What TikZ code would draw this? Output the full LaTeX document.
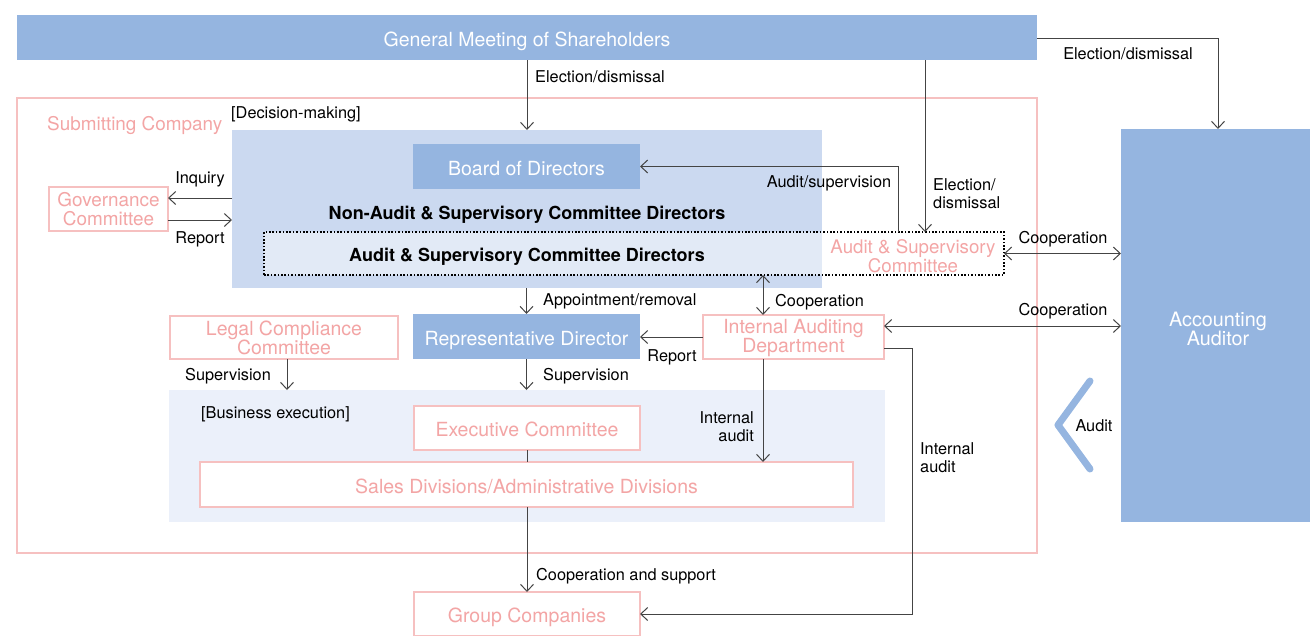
\documentclass[tikz,border=0pt]{standalone}
\usepackage{fontspec}
\setmainfont{TeX Gyre Heros}
\usetikzlibrary{arrows.meta,calc}
\definecolor{mblue}{HTML}{95B5E0}
\definecolor{dblue}{HTML}{CBD9F0}
\definecolor{lblue}{HTML}{EBF0FA}
\definecolor{dotfill}{HTML}{E2EAF6}
\definecolor{pinkline}{HTML}{F6C0C0}
\definecolor{pinktext}{HTML}{F3A5A5}
\definecolor{arrgray}{HTML}{444444}
\begin{document}
\begin{tikzpicture}[x=1pt,y=-1pt,
  rect/.style 2 args={minimum width=#1, minimum height=#2, inner sep=0pt, outer sep=0pt, align=center},
  oneline/.style={text height=17.5pt, text depth=0pt},
  bluebox/.style={fill=mblue, text=white, font=\fontsize{19.5}{19}\selectfont},
  pinkbox/.style={draw=pinkline, line width=1.2pt, fill=white, text=pinktext, font=\fontsize{19.5}{19}\selectfont},
  lbl/.style={inner sep=0pt, text depth=0pt, font=\fontsize{16.3}{18}\selectfont, text=black},
  boldtxt/.style={inner sep=0pt, font=\fontsize{18}{19}\selectfont\bfseries},
  arr/.style={draw=arrgray, line width=1pt, -{Straight Barb[length=7pt,width=13pt,line width=1pt]}},
  darr/.style={draw=arrgray, line width=1pt, {Straight Barb[length=7pt,width=13pt,line width=1pt]}-{Straight Barb[length=7pt,width=13pt,line width=1pt]}},
  plain/.style={draw=arrgray, line width=1pt}
]
\useasboundingbox (0,0) rectangle (1310,635);

% containers
\node[rect={1020}{455}, draw=pinkline, line width=1.2pt] (company) at (527,325.5) {};
\node[rect={590}{158}, fill=dblue] (dec) at (527,209) {};
\node[rect={716}{132}, fill=lblue] (bus) at (527,456) {};
\fill[dotfill] (264,232) rectangle (822,275);
\node[rect={740}{43}, draw=black, line width=1.6pt, dash pattern=on 1.6pt off 1.8pt] (asc) at (634,253.5) {};

% top
\node[rect={1020}{45}, bluebox, oneline] (gm) at (527,37.5) {General Meeting of Shareholders};
\node[rect={194}{393}, fill=mblue] (aa) at (1218,325.5) {};
\node[inner sep=0pt, text=white, align=center, font=\fontsize{19.8}{18}\selectfont] (aatext) at (1218,329) {Accounting\\Auditor};

% boxes
\node[rect={227}{45}, bluebox, oneline] (bod) at (526.5,166.5) {Board of Directors};
\node[boldtxt] (nonaud) at (527,215) {Non-Audit \& Supervisory Committee Directors};
\node[boldtxt] (auddir) at (527,257) {Audit \& Supervisory Committee Directors};
\node[inner sep=0pt, text=pinktext, align=center, font=\fontsize{18.7}{18}\selectfont] (asctext) at (913,256) {Audit \& Supervisory\\Committee};
\node[rect={119}{44}, pinkbox, font=\fontsize{18.9}{19}\selectfont] (gov) at (108.5,209) {Governance\\Committee};
\node[rect={227}{45}, bluebox, oneline] (rd) at (526.5,336.5) {Representative Director};
\node[rect={181}{44}, pinkbox] (iad) at (793.5,337) {\rule{0pt}{17pt}Internal Auditing\\Department};
\node[rect={228}{43}, pinkbox] (lcc) at (284,337.5) {\rule{0pt}{16pt}Legal Compliance\\Committee};
\node[rect={226}{44}, pinkbox, oneline] (ec) at (527,428) {Executive Committee};
\node[rect={653}{45}, pinkbox, oneline] (sales) at (526.5,484.5) {Sales Divisions/Administrative Divisions};
\node[rect={226}{44}, pinkbox, oneline] (gc) at (527,614) {Group Companies};

% plain texts
\node[lbl, anchor=west, text=pinktext, font=\fontsize{18.9}{19}\selectfont] (subco) at (47,123) {Submitting Company};
\node[lbl, anchor=west] (decmk) at (231,113) {[Decision-making]};
\node[lbl, anchor=west] (busex) at (201,413) {[Business execution]};

% coordinates
\coordinate (elx) at (925,0);
\coordinate (audx) at (898,0);
\coordinate (coopx) at (763,0);
\coordinate (inqy) at (0,198);
\coordinate (repy) at (0,220);
\coordinate (coop2y) at (0,326);
\coordinate (iay) at (0,348);
\coordinate (iax) at (912,0);
\coordinate (lccx) at (287,0);

% connectors
\draw[arr] (gm.south) -- (gm.south |- dec.north);
\node[lbl, anchor=west] (l1) at (535,77) {Election/dismissal};

\draw[arr] (gm.east |- 0,38) -| (aa.north);
\node[lbl] (l2) at (1128,54) {Election/dismissal};

\draw[arr] (elx |- gm.south) -- (elx |- asc.north);
\node[lbl, anchor=west, align=left] (l3) at (933,193.5) {Election/\\dismissal};

\draw[arr] (audx |- asc.north) |- (bod.east);
\node[lbl] (l4) at (829,182) {Audit/supervision};

\draw[arr] (dec.west |- inqy) -- (gov.east |- inqy);
\node[lbl] (l5) at (200,178) {Inquiry};
\draw[arr] (gov.east |- repy) -- (dec.west |- repy);
\node[lbl] (l6) at (200,238) {Report};

\draw[darr] (asc.east) -- (aa.west |- asc.east);
\node[lbl] (l7) at (1063,237) {Cooperation};

\draw[arr] (rd.north |- dec.south) -- (rd.north);
\node[lbl, anchor=west] (l8) at (543,300) {Appointment/removal};

\draw[darr] (coopx |- asc.south) -- (coopx |- iad.north);
\node[lbl, anchor=west] (l9) at (775,300) {Cooperation};

\draw[arr] (iad.west) -- (rd.east |- iad.west);
\node[lbl] (l10) at (672,356) {Report};

\draw[darr] (iad.east |- coop2y) -- (aa.west |- coop2y);
\node[lbl] (l11) at (1063,309) {Cooperation};

\draw[arr] (iad.east |- iay) -- (iax |- iay) |- (gc.east);
\node[lbl, anchor=west, align=left] (l12) at (920,458) {Internal\\audit};

\draw[arr] (lccx |- lcc.south) -- (lccx |- bus.north);
\node[lbl] (l13) at (228,374) {Supervision};

\draw[arr] (rd.south) -- (rd.south |- bus.north);
\node[lbl, anchor=west] (l14) at (543,374) {Supervision};

\draw[plain] (ec.south) -- (ec.south |- sales.north);

\draw[arr] (coopx |- iad.south) -- (coopx |- sales.north);
\node[lbl, anchor=east, align=right] (l15) at (754,427) {Internal\\audit};

\draw[arr] (sales.south -| gc.north) -- (gc.north);
\node[lbl, anchor=west] (l16) at (536,574) {Cooperation and support};

% audit chevron
\draw[mblue, line width=7pt, line cap=round, line join=round] (1090,381) -- (1058,425) -- (1090,469);
\node[lbl] (l17) at (1094,426) {Audit};
\end{tikzpicture}
\end{document}
